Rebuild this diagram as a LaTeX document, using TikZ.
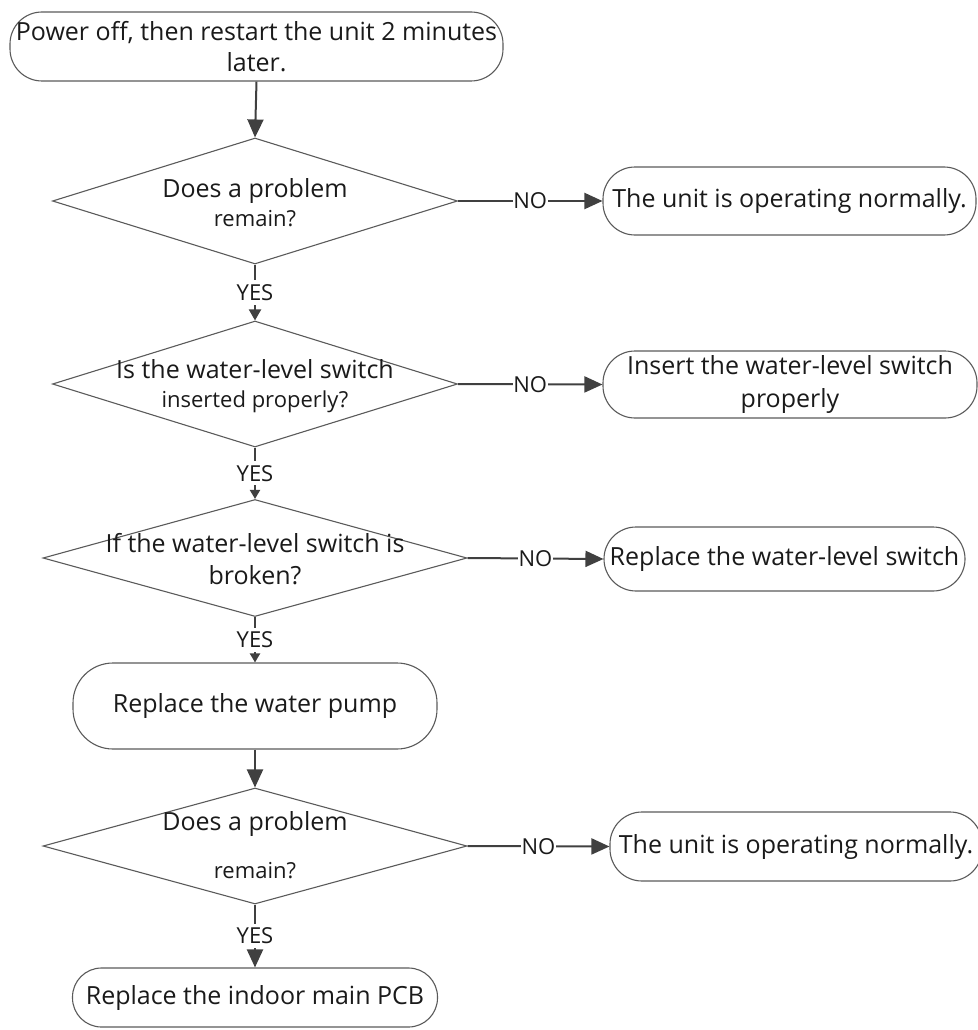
\documentclass[tikz,border=0pt]{standalone}
\usepackage{fontspec}
\setmainfont{Open Sans}
\usetikzlibrary{shapes.geometric,arrows.meta}
\definecolor{linegray}{HTML}{5A5A5A}
\definecolor{arrowgray}{HTML}{404040}
\definecolor{txtblack}{HTML}{1A1A1A}
\begin{document}
\begin{tikzpicture}[x=1pt,y=-1pt,
  box/.style={draw=linegray, line width=1.1pt, rounded corners=32pt, inner sep=0pt,
    align=center, text=txtblack, font=\fontsize{25}{31}\selectfont},
  dia/.style={draw=linegray, line width=1.1pt, diamond, inner sep=0pt},
  dtxt/.style={align=center, inner sep=0pt, text=txtblack, font=\fontsize{25}{29}\selectfont},
  flow/.style={draw=arrowgray, line width=2pt, -{Triangle[length=18pt,width=16pt]}},
  flowsmall/.style={draw=arrowgray, line width=2pt, -{Triangle[length=9pt,width=10pt]}},
  lbl/.style={fill=white, inner xsep=0.5pt, inner ysep=4pt, text=txtblack, font=\fontsize{22}{24}\selectfont},
]
\useasboundingbox (0,0) rectangle (977,1030);

% nodes
\node[box, minimum width=493pt, minimum height=69pt] (b0) at (256.5,46.5)
  {Power off, then restart the unit 2 minutes\\later.};

\node[dia, minimum width=405pt, minimum height=126pt] (d1) at (255,201) {};
\node[dtxt] (t1) at (255,202.5) {Does a problem\\{\fontsize{22}{29}\selectfont remain?}};
\node[box, minimum width=373pt, minimum height=68pt] (n1) at (789.5,201)
  {The unit is operating normally.};

\node[dia, minimum width=405pt, minimum height=126pt] (d2) at (255,384) {};
\node[dtxt] (t2) at (255,386) {Is the water-level switch\\{\fontsize{22}{29}\selectfont inserted properly?}};
\node[box, minimum width=374pt, minimum height=67pt, font=\fontsize{25}{33}\selectfont] (n2) at (790,384.5)
  {Insert the water-level switch\\properly};

\node[dia, minimum width=424pt, minimum height=117pt] (d3) at (255,558) {};
\node[dtxt, font=\fontsize{25}{32}\selectfont] (t3) at (255,559) {If the water-level switch is\\broken?};
\node[box, minimum width=361pt, minimum height=64pt] (n3) at (784.5,559)
  {Replace the water-level switch};

\node[box, minimum width=364pt, minimum height=86pt, rounded corners=40pt] (b4) at (255,706)
  {Replace the water pump};

\node[dia, minimum width=424pt, minimum height=116pt] (d4) at (255,846) {};
\node[dtxt] (t4) at (255,845) {Does a problem\\[19pt]{\fontsize{22}{29}\selectfont remain?}};
\node[box, minimum width=372pt, minimum height=69pt] (n4) at (796,846.5)
  {The unit is operating normally.};

\node[box, minimum width=365pt, minimum height=59pt, rounded corners=29pt] (b5) at (255,997.5)
  {Replace the indoor main PCB};

% connectors
\draw[flow] (b0.south) -- (d1.north);
\draw[flow] (d1.east) -- node[lbl] (no1) {NO} (n1.west);
\draw[draw=arrowgray, line width=2pt, -{Triangle[length=11pt,width=12pt]}] (d1.south) -- node[lbl] (yes1) {YES} (d2.north);

\draw[flow] (d2.east) -- node[lbl] (no2) {NO} (n2.west);
\draw[flowsmall] (d2.south) -- node[lbl] (yes2) {YES} (d3.north);

\draw[flow] (d3.east) -- node[lbl] (no3) {NO} (n3.west);
\draw[flowsmall] (d3.south) -- node[lbl] (yes3) {YES} (b4.north);

\draw[flow] (b4.south) -- (d4.north);
\draw[flow] (d4.east) -- node[lbl] (no4) {NO} (n4.west);
\draw[flow] (d4.south) -- node[lbl] (yes4) {YES} (b5.north);
\end{tikzpicture}
\end{document}
